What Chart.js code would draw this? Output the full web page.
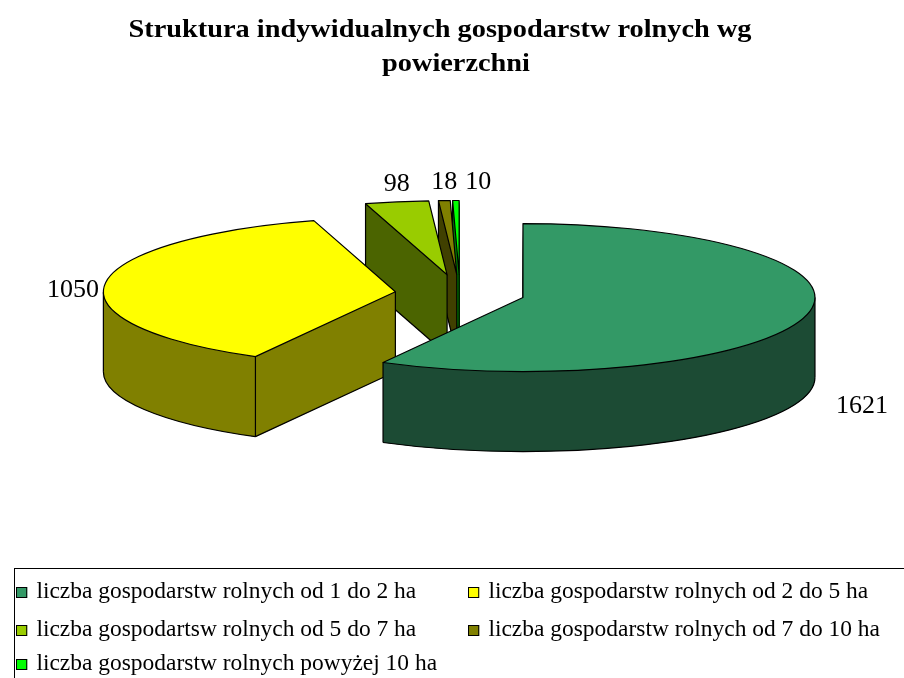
<!DOCTYPE html>
<html>
<head>
<meta charset="utf-8">
<script src="https://cdn.jsdelivr.net/npm/chart.js@4.4.1/dist/chart.umd.min.js"></script>
<style>
  html, body { margin: 0; padding: 0; background: #fff; }
  #wrap { position: relative; width: 904px; height: 678px; overflow: hidden; background: #fff;
          font-family: "Liberation Serif", "Times New Roman", serif; color: #000; }
  #c { position: absolute; left: 0; top: 0; }
  .tline { position: absolute; white-space: nowrap; font-weight: bold; font-size: 26px; line-height: 34px;
           text-align: center; transform: scaleX(1.09); transform-origin: center; }
  #legend { position: absolute; left: 14px; top: 568px; width: 940px; height: 160px;
            border: 1px solid #000; box-sizing: border-box; }
  .item { position: absolute; white-space: nowrap; font-size: 23px; line-height: 28px;
          transform: scaleX(1.02); transform-origin: left center; }
  .sw { display: inline-block; width: 9px; height: 9px; border: 1px solid #000; margin-right: 9px;
        vertical-align: 0px; }
</style>
</head>
<body>
<div id="wrap">
  <canvas id="c" width="904" height="678"></canvas>
  <div id="title"></div>
  <div id="legend"></div>
</div>
<script>
// ---- data ----
const titleLines = ["Struktura indywidualnych gospodarstw rolnych wg", "powierzchni"];
const categories = [
  "liczba gospodarstw rolnych od 1 do 2 ha",
  "liczba gospodarstw rolnych od 2 do 5 ha",
  "liczba gospodartsw rolnych od 5 do 7 ha",
  "liczba gospodarstw rolnych od 7 do 10 ha",
  "liczba gospodarstw rolnych powyżej 10 ha"
];
const values = [1621, 1050, 98, 18, 10];
const topColors = ["#339966", "#ffff00", "#99cc00", "#808000", "#00ff00"];
const sideColors = ["#1c4b34", "#808000", "#4b6400", "#404000", "#008000"];

// ---- title (HTML text) ----
const titleEl = document.getElementById('title');
const titlePos = [{cx: 440, top: 12}, {cx: 456, top: 46}];
titleLines.forEach((t, i) => {
  const d = document.createElement('div');
  d.className = 'tline';
  d.textContent = t;
  d.style.width = '800px';
  d.style.left = (titlePos[i].cx - 400) + 'px';
  d.style.top = titlePos[i].top + 'px';
  titleEl.appendChild(d);
});

// ---- legend (HTML, built from the arrays) ----
const legendEl = document.getElementById('legend');
const colX = [1, 453];
const rowTop = [8, 46, 80];
categories.forEach((c, i) => {
  const d = document.createElement('div');
  d.className = 'item';
  d.style.left = colX[i % 2] + 'px';
  d.style.top = rowTop[Math.floor(i / 2)] + 'px';
  const sw = document.createElement('span');
  sw.className = 'sw';
  sw.style.background = topColors[i];
  d.appendChild(sw);
  d.appendChild(document.createTextNode(c));
  legendEl.appendChild(d);
});

// ---- 3D pie plugin: draws library arcs squashed and extruded ----
const pie3d = {
  id: 'pie3d',
  beforeDatasetsDraw(chart) {
    const ctx = chart.ctx;
    const o = chart.options.plugins.pie3d;
    const K = o.squash, D = o.depth, ex = o.explode;
    const arcs = chart.getDatasetMeta(0).data;
    const deg = th => { let a = th * 180 / Math.PI + 90; a = ((a % 360) + 360) % 360; return a; };
    const info = arcs.map((el, i) => {
      const mid = (el.startAngle + el.endAngle) / 2;
      const e = ex[i] || 0;
      const dx = Math.cos(mid) * e, dy = Math.sin(mid) * e * K;
      const as = deg(el.startAngle);
      const ae = as + (el.endAngle - el.startAngle) * 180 / Math.PI;
      return { el, i, mid, dx, dy, ax: el.x + dx, ay: el.y + dy, r: el.outerRadius, as, ae };
    });

    function fill(s, shift, color) {
      ctx.save();
      ctx.translate(s.ax, s.ay + shift);
      ctx.scale(1, K);
      ctx.translate(-s.el.x, -s.el.y);
      const fake = Object.create(s.el);
      fake.options = Object.assign({}, s.el.options, { backgroundColor: color, borderWidth: 0, offset: 0, spacing: 0 });
      fake.draw(ctx);
      ctx.restore();
    }
    const P = (s, th, shift) => [s.ax + s.r * Math.cos(th), s.ay + s.r * Math.sin(th) * K + shift];
    const rad = a => (a - 90) * Math.PI / 180;

    function vline(x, y) {
      ctx.beginPath(); ctx.moveTo(x, y); ctx.lineTo(x, y + D); ctx.stroke();
    }
    function quad(a, b) {
      ctx.beginPath();
      ctx.moveTo(a[0], a[1]); ctx.lineTo(b[0], b[1]);
      ctx.lineTo(b[0], b[1] + D); ctx.lineTo(a[0], a[1] + D);
      ctx.closePath(); ctx.fill();
    }

    const order = info.slice().sort((p, q) => p.ay - q.ay);
    ctx.lineWidth = 1.2;
    ctx.strokeStyle = '#000';
    ctx.lineJoin = 'round';
    for (const s of order) {
      const side = sideColors[s.i];
      // side walls: extruded copies of the library arc
      for (let k = D; k >= 1; k -= 0.5) fill(s, k, side);
      const startFace = s.as > 180 && s.as < 360;
      const endFace = s.ae > 0 && s.ae < 180;
      const lo = Math.max(s.as, 90), hi = Math.min(s.ae, 270);
      // smooth solid fill of the visible walls
      ctx.fillStyle = side;
      if (lo < hi) {
        ctx.beginPath();
        ctx.ellipse(s.ax, s.ay, s.r, s.r * K, 0, rad(lo), rad(hi));
        ctx.ellipse(s.ax, s.ay + D, s.r, s.r * K, 0, rad(hi), rad(lo), true);
        ctx.closePath(); ctx.fill();
      }
      if (startFace) quad([s.ax, s.ay], P(s, s.el.startAngle, 0));
      if (endFace) quad([s.ax, s.ay], P(s, s.el.endAngle, 0));
      // visible bottom edges
      ctx.beginPath();
      if (lo < hi) {
        ctx.ellipse(s.ax, s.ay + D, s.r, s.r * K, 0, rad(lo), rad(hi));
      }
      if (startFace) {
        const p = P(s, s.el.startAngle, D);
        ctx.moveTo(s.ax, s.ay + D); ctx.lineTo(p[0], p[1]);
      }
      if (endFace) {
        const p = P(s, s.el.endAngle, D);
        ctx.moveTo(s.ax, s.ay + D); ctx.lineTo(p[0], p[1]);
      }
      ctx.stroke();
      // visible vertical edges
      if (startFace || endFace) vline(s.ax, s.ay);
      if (s.as > 90 && s.as < 360) { const p = P(s, s.el.startAngle, 0); vline(p[0], p[1]); }
      if (s.ae > 0 && s.ae < 270) { const p = P(s, s.el.endAngle, 0); vline(p[0], p[1]); }
      [90, 270].forEach(a => { if (a > s.as && a < s.ae) { const p = P(s, rad(a), 0); vline(p[0], p[1]); } });
      // top face
      fill(s, 0, topColors[s.i]);
      ctx.beginPath();
      ctx.moveTo(s.ax, s.ay);
      const p0 = P(s, s.el.startAngle, 0);
      ctx.lineTo(p0[0], p0[1]);
      ctx.ellipse(s.ax, s.ay, s.r, s.r * K, 0, s.el.startAngle, s.el.endAngle);
      ctx.closePath();
      ctx.stroke();
    }

    // data labels
    ctx.save();
    ctx.font = o.labelFont;
    ctx.fillStyle = '#000';
    ctx.textBaseline = 'middle';
    const tops = [];
    for (const s of info) {
      const text = String(chart.data.datasets[0].data[s.i]);
      const c = Math.cos(s.mid), sn = Math.sin(s.mid);
      const p = P(s, s.mid, 0);
      const w = ctx.measureText(text).width;
      if (Math.abs(c) > 0.5) {
        const front = sn > 0;
        const x = p[0] + Math.sign(c) * (o.labelGap + (front ? D * 0.3 : 0));
        const y = p[1] + (front ? D + 10 : 6);
        ctx.textAlign = c > 0 ? 'left' : 'right';
        ctx.fillText(text, x, y);
      } else {
        tops.push({ text, x: p[0], y: p[1] - 18, w });
      }
    }
    tops.sort((a, b) => a.x - b.x);
    for (let j = 1; j < tops.length; j++) {
      const minX = tops[j - 1].x + (tops[j - 1].w + tops[j].w) / 2 + 8;
      if (tops[j].x < minX) tops[j].x = minX;
    }
    ctx.textAlign = 'center';
    tops.forEach(t => ctx.fillText(t.text, t.x, t.y));
    ctx.restore();
    return false;
  }
};

new Chart(document.getElementById('c'), {
  type: 'pie',
  data: {
    labels: categories,
    datasets: [{ data: values, backgroundColor: topColors, borderWidth: 0, radius: 292 }]
  },
  options: {
    responsive: false,
    animation: false,
    events: [],
    radius: 292,
    layout: { padding: { left: 16, right: 0, top: 0, bottom: 91 } },
    plugins: {
      legend: { display: false },
      tooltip: { enabled: false },
      title: { display: false },
      pie3d: { squash: 74 / 292, depth: 80, explode: [65, 65, 75, 75, 75],
               labelFont: "26px 'Liberation Serif'", labelGap: 6 }
    }
  },
  plugins: [pie3d]
});
</script>
</body>
</html>
